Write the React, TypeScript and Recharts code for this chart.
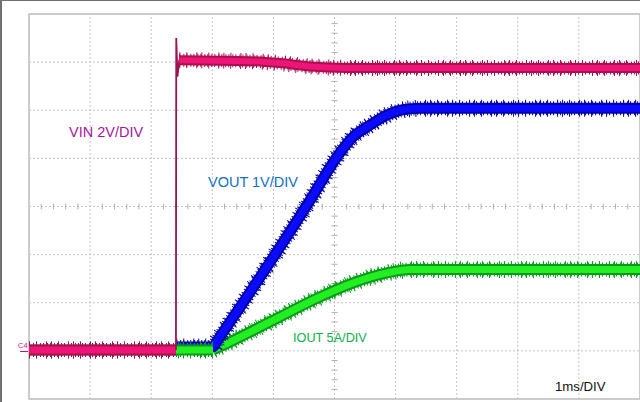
import { LineChart, Line, XAxis, YAxis, ReferenceLine, ReferenceArea } from 'recharts';

// screen is 10 horizontal divisions x 8 vertical divisions
const gridX = [1, 2, 3, 4, 5, 6, 7, 8, 9];
const gridY = [-3, -2, -1, 0, 1, 2, 3];

// traces, in divisions (x: time, y: vertical position on screen)
const vinBefore = [
  { x: 0, y: -2.98 },
  { x: 2.405, y: -2.98 },
];
const vinEdge = [
  { x: 2.405, y: -2.98 },
  { x: 2.41, y: 3.5 },
  { x: 2.43, y: 2.7 },
  { x: 2.46, y: 3.05 },
];
const vinAfter = [
  { x: 2.46, y: 3.04 },
  { x: 3.6, y: 3.02 },
  { x: 4.1, y: 2.98 },
  { x: 4.6, y: 2.91 },
  { x: 5.2, y: 2.88 },
  { x: 10, y: 2.88 },
];
const vout = [
  { x: 2.41, y: -2.92 },
  { x: 3.01, y: -2.92 },
  { x: 3.08, y: -2.79 },
  { x: 4.6, y: 0.13 },
  { x: 5.04, y: 1.03 },
  { x: 5.3, y: 1.44 },
  { x: 5.58, y: 1.69 },
  { x: 5.86, y: 1.9 },
  { x: 6.12, y: 2.01 },
  { x: 6.4, y: 2.04 },
  { x: 10, y: 2.04 },
];
const ioutFlat = [
  { x: 0, y: -2.98 },
  { x: 3.01, y: -2.98 },
];
const ioutRamp = [
  { x: 3.01, y: -2.98 },
  { x: 3.08, y: -2.94 },
  { x: 3.94, y: -2.4 },
  { x: 4.76, y: -1.88 },
  { x: 5.3, y: -1.59 },
  { x: 5.86, y: -1.38 },
  { x: 6.24, y: -1.31 },
  { x: 10, y: -1.31 },
];

// small ticks along the centre cross, every 0.2 div
const minorX = Array.from({ length: 49 }, (_, i) => (i + 1) * 0.2).filter((v) => Math.abs(v - Math.round(v)) > 0.01);
const minorY = Array.from({ length: 39 }, (_, i) => -4 + (i + 1) * 0.2).filter((v) => Math.abs(v - Math.round(v)) > 0.01);

const W = 640;
const H = 402;

type Pt = { x: number; y: number };

// a scope trace: ragged dark halo, solid dark band, bright core
function Trace({ data, core, edge, width, id }: { data: Pt[]; core: string; edge: string; width: number; id: string }) {
  const base = { data, dataKey: 'y', type: 'monotoneX' as const, dot: false, isAnimationActive: false, strokeLinejoin: 'round' as const };
  return [
    <Line key={id + 'f1'} {...base} stroke={edge} strokeWidth={width + 6} strokeDasharray="1 6 1 9 1 4" />,
    <Line key={id + 'f2'} {...base} stroke={edge} strokeWidth={width + 3} strokeDasharray="1 3 1 2" />,
    <Line key={id + 'e'} {...base} stroke={edge} strokeWidth={width} />,
    <Line key={id + 'c'} {...base} stroke={core} strokeWidth={width - 4} />,
  ];
}

const label = (text: string, left: number, baseline: number, size: number, color: string) => (
  <div
    style={{
      position: 'absolute',
      left,
      top: baseline - size * 0.847,
      fontSize: size,
      lineHeight: 1,
      color,
      fontFamily: '"Liberation Sans", Arial, sans-serif',
      whiteSpace: 'nowrap',
    }}
  >
    {text}
  </div>
);

export default function App() {
  return (
    <div style={{ position: 'absolute', left: 0, top: 0, width: W, height: H, background: '#fff', overflow: 'hidden' }}>
      <LineChart width={W} height={H} margin={{ top: 14, left: 29, right: 0, bottom: 3 }}>
        <XAxis type="number" dataKey="x" domain={[0, 10]} hide allowDataOverflow />
        <YAxis type="number" domain={[-4, 4]} hide allowDataOverflow />
        {gridX.map((v) => (
          <ReferenceLine key={'gx' + v} x={v} stroke="#c4c4c4" strokeDasharray="2 2" />
        ))}
        {gridY.map((v) => (
          <ReferenceLine key={'gy' + v} y={v} stroke="#c4c4c4" strokeDasharray="2 2" />
        ))}
        {minorX.map((v) => (
          <ReferenceLine key={'mx' + v} segment={[{ x: v, y: -0.06 }, { x: v, y: 0.06 }]} stroke="#b0b0b0" />
        ))}
        {minorY.map((v) => (
          <ReferenceLine key={'my' + v} segment={[{ x: 4.95, y: v }, { x: 5.05, y: v }]} stroke="#b0b0b0" />
        ))}
        <ReferenceArea x1={0} x2={10} y1={-4} y2={4} fill="none" stroke="#bcbcbc" strokeWidth={1.5} />
        {Trace({ data: ioutRamp, core: '#22ee22', edge: '#0a9a1a', width: 11, id: 'ioutr' })}
        {Trace({ data: vout, core: '#0a0aff', edge: '#0000a8', width: 11, id: 'vout' })}
        {Trace({ data: ioutFlat, core: '#22ee22', edge: '#0a9a1a', width: 11, id: 'ioutf' })}
        {Trace({ data: vinBefore, core: '#ee1478', edge: '#a8104e', width: 11, id: 'vinb' })}
        <Line data={vinEdge} dataKey="y" type="linear" dot={false} isAnimationActive={false}
          stroke="#9a1450" strokeWidth={1.8} />
        {Trace({ data: vinAfter, core: '#ee1478', edge: '#a8104e', width: 10, id: 'vina' })}
      </LineChart>
      <div style={{ position: 'absolute', left: 0, top: 0, width: W, height: 1, background: '#707070' }} />
      <div style={{ position: 'absolute', left: 0, top: 0, width: 2, height: H, background: '#707070' }} />
      {label('VIN 2V/DIV', 69, 137, 14.5, '#a4189c')}
      {label('VOUT 1V/DIV', 208, 187, 14.5, '#1070c6')}
      {label('IOUT 5A/DIV', 293, 343, 12.7, '#0cb050')}
      {label('1ms/DIV', 555, 391, 13.2, '#111')}
      {label('C4', 18, 348, 7.5, '#d01070')}
      <div style={{ position: 'absolute', left: 20, top: 351, width: 8, height: 1, background: '#d01070' }} />
    </div>
  );
}
